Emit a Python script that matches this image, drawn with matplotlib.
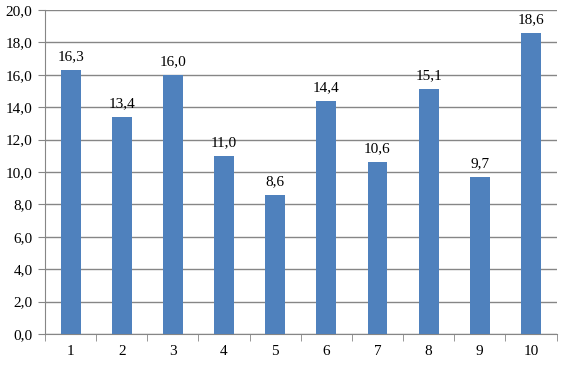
import matplotlib
matplotlib.use("Agg")
import matplotlib.pyplot as plt
from matplotlib.ticker import FuncFormatter, MultipleLocator, FixedLocator

categories = ["1", "2", "3", "4", "5", "6", "7", "8", "9", "10"]
values = [16.3, 13.4, 16.0, 11.0, 8.6, 14.4, 10.6, 15.1, 9.7, 18.6]

plt.rcParams['font.family'] = ['Liberation Serif', 'DejaVu Serif']
fig = plt.figure(figsize=(5.62, 3.66), dpi=100)
ax = fig.add_axes([45/562, 1-334/366, (556.5-45)/562, (334-10)/366])

x = list(range(len(categories)))
bars = ax.bar(x, values, width=0.39, color="#4F81BD", zorder=3)
ax.set_xlim(-0.5, len(categories)-0.5)
ax.set_ylim(0, 20)
ax.yaxis.set_major_locator(MultipleLocator(2))
fmt = lambda v: f"{v:.1f}".replace(".", ",")
ax.yaxis.set_major_formatter(FuncFormatter(lambda v, p: fmt(v)))
ax.grid(axis='y', color="#868686", linewidth=1, zorder=0)
ax.set_xticks(x)
ax.set_xticklabels(categories)
ax.xaxis.set_minor_locator(FixedLocator([i - 0.5 for i in range(len(categories)+1)]))
ax.tick_params(axis='x', which='major', length=0, pad=8, labelsize=11)
ax.tick_params(axis='x', which='minor', length=5, color="#868686")
ax.tick_params(axis='y', length=5, color="#868686", labelsize=11, pad=4)
for s in ['top', 'right']:
    ax.spines[s].set_visible(False)
for s in ['left', 'bottom']:
    ax.spines[s].set_color("#868686")
for xi, v in zip(x, values):
    ax.annotate(fmt(v), (xi, v), xytext=(0, 5), textcoords='offset points',
                ha='center', va='bottom', fontsize=11)
fig.savefig("out.png", dpi=100)
